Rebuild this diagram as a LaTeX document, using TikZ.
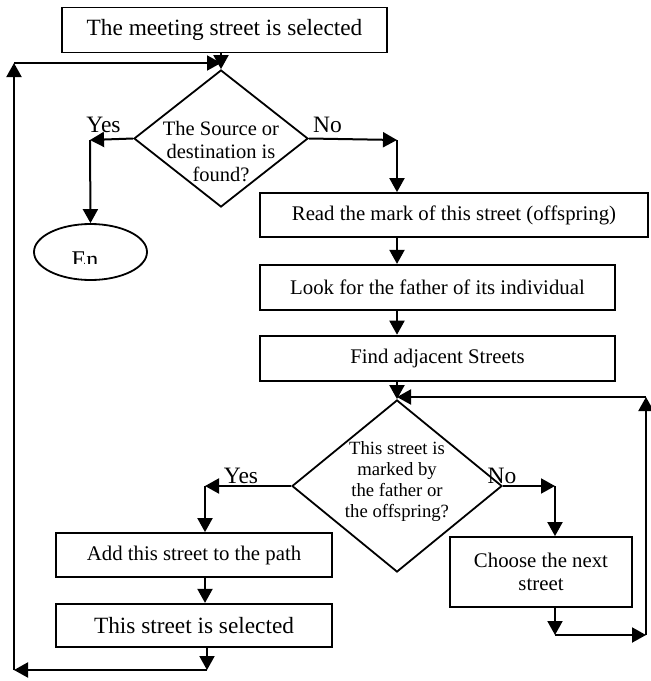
\documentclass[tikz,border=0pt]{standalone}
\usepackage{fontspec}
\setmainfont{Liberation Serif}
\usepackage{tikz}
\usetikzlibrary{arrows.meta,positioning,shapes.geometric}

\begin{document}
\begin{tikzpicture}[
    x=1pt, y=-1pt,
    node distance=25pt and 20pt,
    proc/.style={draw, line width=1.8pt, inner sep=0pt, align=center, font=\fontsize{20.8}{23}\selectfont},
    cond/.style={draw, diamond, line width=1.8pt, inner sep=0pt, minimum width=174pt, minimum height=137pt},
    term/.style={draw, ellipse, line width=1.8pt, inner sep=0pt, minimum width=113pt, minimum height=56pt},
    lbl/.style={anchor=base, inner sep=0pt, font=\fontsize{23.5}{24}\selectfont},
    arr/.style={-{Triangle[length=14pt, width=15pt]}, line width=2pt}
  ]
    \useasboundingbox (0,0) rectangle (651,681);
    % upper part
    \node[proc, minimum width=325pt, minimum height=45pt, font=\fontsize{23.3}{25}\selectfont] (t) at (224.5,30) {The meeting street is selected};
    \node[cond] (d1) at (221,138.5) {};
    \node[align=center, inner sep=0pt, font=\fontsize{20.5}{23}\selectfont] (d1t) at (221,152) {The Source or\\destination is\\found?};
    \node[term] (e) at (90.5,252) {};
    \begin{scope}
      \clip (30,220) rectangle (150,263);
      \node[anchor=base, inner sep=0pt, font=\fontsize{24}{24}\selectfont] (et) at (85,267) {En};
    \end{scope}
    \node[proc, minimum width=388pt, minimum height=44pt] (r) at (454,215) {Read the mark of this street (offspring)};
    \node[proc, minimum width=355pt, minimum height=45pt, below=26pt of r.south west, anchor=north west] (f) {Look for the father of its individual};
    \node[proc, minimum width=355pt, minimum height=45pt, below=24pt of f] (a) {Find adjacent Streets};
    % lower part
    \node[cond, minimum width=210pt, minimum height=172pt] (d2) at (397,486) {};
    \node[align=center, inner sep=0pt, font=\fontsize{18.7}{21}\selectfont] (d2t) at (397,482) {This street is\\marked by\\the father or\\the offspring?};
    \node[proc, minimum width=276pt, minimum height=44pt] (p) at (194,555) {Add this street to the path};
    \node[proc, minimum width=276pt, minimum height=43pt, below=25pt of p, font=\fontsize{23.3}{25}\selectfont] (s) {This street is selected};
    \node[proc, minimum width=182pt, minimum height=70pt] (c) at (541,572) {Choose the next\\street};
    \node[lbl] (ly1) at (103.5,132) {Yes};
    \node[lbl] (ln1) at (327.5,132) {No};
    \node[lbl] (ly2) at (241,483) {Yes};
    \node[lbl] (ln2) at (502,483) {No};
    % turning points
    \coordinate (y1) at (90,140);
    \coordinate (n1) at (397,140);
    \coordinate (y2) at (205,486);
    \coordinate (n2) at (555,486);
    \coordinate (b1) at (207,670);
    \coordinate (b2) at (14,670);
    \coordinate (b3) at (14,63);
    \coordinate (c1) at (555,635);
    \coordinate (c2) at (646,635);
    \coordinate (c3) at (646,397);
    \draw[arr] (t.south -| d1.north) -- (d1.north);
    \draw[arr] (d1.west) -- (y1); \draw[arr] (y1) -- (e.north);
    \draw[arr] (d1.east) -- (n1); \draw[arr] (n1) -- (n1 |- r.north);
    \draw[arr] (r.south -| n1) -- (f.north -| n1); \draw[arr] (f.south -| n1) -- (a.north -| n1);
    \draw[arr] (a.south -| d2.north) -- (d2.north);
    \draw[arr] (d2.west) -- (y2); \draw[arr] (y2) -- (y2 |- p.north);
    \draw[arr] (p.south -| y2) -- (s.north -| y2);
    \draw[arr] (s.south -| b1) -- (b1); \draw[arr] (b1) -- (b2); \draw[arr] (b2) -- (b3); \draw[arr] (b3) -- (b3 -| d1.north);
    \draw[arr] (d2.east) -- (n2); \draw[arr] (n2) -- (n2 |- c.north);
    \draw[arr] (c.south -| c1) -- (c1); \draw[arr] (c1) -- (c2); \draw[arr] (c2) -- (c3); \draw[arr] (c3) -- (c3 -| d2.north);
  \end{tikzpicture}
\end{document}
